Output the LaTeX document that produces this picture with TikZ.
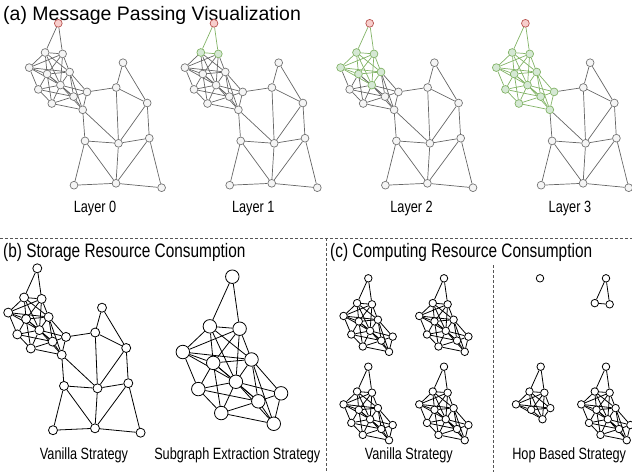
\documentclass[tikz,border=0pt]{standalone}
\usepackage{fontspec}
\setmainfont{Liberation Sans}
\newfontfamily\headfont[FakeStretch=0.79]{Liberation Sans}
\newfontfamily\capfont[FakeStretch=0.78]{Liberation Sans}
\usepackage{tikz}
\usetikzlibrary{backgrounds}
\definecolor{nodegray}{HTML}{F5F5F5}
\definecolor{linegray}{HTML}{666666}
\definecolor{hopfill}{HTML}{D5E8D4}
\definecolor{hopline}{HTML}{82B366}
\definecolor{srcfill}{HTML}{F8CECC}
\definecolor{srcline}{HTML}{B85450}
\definecolor{sepgray}{HTML}{555555}
\tikzset{
  % vertices of the message passing panel
  grayv/.style={circle, inner sep=0pt, minimum size=7.8pt, line width=0.7pt,
    draw=linegray!90, fill=nodegray},
  greenv/.style={grayv, draw=hopline, fill=hopfill},
  redv/.style={grayv, draw=srcline, fill=srcfill},
  % edges of the message passing panel
  grayl/.style={linegray, line width=0.7pt},
  greenl/.style={hopline, line width=0.7pt},
  % plain black graphs of (b) and (c)
  bvert/.style={circle, inner sep=0pt, minimum size=#1, line width=0.8pt,
    draw=black, fill=white},
  bvert/.default=8pt,
  blackl/.style={black, line width=0.8pt},
  % dashed panel borders
  sepline/.style={sepgray, line width=0.8pt, dash pattern=on 3pt off 2pt},
  % texts
  panelhead/.style={anchor=base west, inner sep=0pt,
    font=\headfont\fontsize{19.5}{22}\selectfont},
  caption/.style={anchor=base, inner sep=0pt,
    font=\capfont\fontsize{16.3}{18}\selectfont},
}
% graph, relative to the source vertex r (px, y downwards), by hop distance
\def\hopone{A/-13.2/29.2, B/4.3/30.6}
\def\hoptwo{C/-29.1/44.3, D/-11.2/50.7, E/11.3/48.7, G/2.1/61.8}
\def\hopthree{F/-20/66.1, H/-6.5/80.2, I/15.3/73.3, J/28.7/68.6, K/24.4/86.5}
\def\hopfour{L/64.7/39.4, M/57.9/64.2, N/88.9/79.7, O/26.7/117.6, P/60.2/120,
  Q/91/114.9, R/15.7/161.9, S/57.7/160, T/103.3/164.4}
\def\edgeone{r/A, r/B, A/B}
\def\edgetwo{A/C, A/D, A/E, A/G, B/C, B/D, B/E, B/G, C/D, C/E, C/G, D/E, D/G, E/G}
\def\edgethree{C/F, D/F, D/H, D/I, E/I, E/J, E/K, F/G, F/H, F/I, G/H, G/I, G/J,
  G/K, H/I, H/K, I/J, I/K, J/K}
\def\edgefour{J/M, K/O, K/P, L/M, L/N, M/N, M/P, N/P, N/Q, O/P, P/Q, O/R, O/S,
  P/S, Q/S, Q/T, R/S, S/T}
% #1 prefix, #2 number of layers the message has gone through
\newcommand{\layergraph}[2]{%
  \ifnum#2>0 \tikzset{vone/.style=greenv, eone/.style=greenl}%
  \else\tikzset{vone/.style=grayv, eone/.style=grayl}\fi
  \ifnum#2>1 \tikzset{vtwo/.style=greenv, etwo/.style=greenl}%
  \else\tikzset{vtwo/.style=grayv, etwo/.style=grayl}\fi
  \ifnum#2>2 \tikzset{vthree/.style=greenv, ethree/.style=greenl}%
  \else\tikzset{vthree/.style=grayv, ethree/.style=grayl}\fi
  \node[redv] (#1-r) at (0,0) {};
  \foreach \vn/\vx/\vy in \hopone {\node[vone] (#1-\vn) at (\vx,\vy) {};}
  \foreach \vn/\vx/\vy in \hoptwo {\node[vtwo] (#1-\vn) at (\vx,\vy) {};}
  \foreach \vn/\vx/\vy in \hopthree {\node[vthree] (#1-\vn) at (\vx,\vy) {};}
  \foreach \vn/\vx/\vy in \hopfour {\node[grayv] (#1-\vn) at (\vx,\vy) {};}
  \begin{pgfonlayer}{background}
    \foreach \ea/\eb in \edgeone {\draw[eone] (#1-\ea) -- (#1-\eb);}
    \foreach \ea/\eb in \edgetwo {\draw[etwo] (#1-\ea) -- (#1-\eb);}
    \foreach \ea/\eb in \edgethree {\draw[ethree] (#1-\ea) -- (#1-\eb);}
    \foreach \ea/\eb in \edgefour {\draw[grayl] (#1-\ea) -- (#1-\eb);}
  \end{pgfonlayer}
}
% #1 prefix, #2 hops kept around r, #3 vertex style
\newcommand{\plaingraph}[3]{%
  \node[#3] (#1-r) at (0,0) {};
  \ifnum#2>0 \foreach \vn/\vx/\vy in \hopone {\node[#3] (#1-\vn) at (\vx,\vy) {};}\fi
  \ifnum#2>1 \foreach \vn/\vx/\vy in \hoptwo {\node[#3] (#1-\vn) at (\vx,\vy) {};}\fi
  \ifnum#2>2 \foreach \vn/\vx/\vy in \hopthree {\node[#3] (#1-\vn) at (\vx,\vy) {};}\fi
  \ifnum#2>3 \foreach \vn/\vx/\vy in \hopfour {\node[#3] (#1-\vn) at (\vx,\vy) {};}\fi
  \begin{pgfonlayer}{background}
    \ifnum#2>0 \foreach \ea/\eb in \edgeone {\draw[blackl] (#1-\ea) -- (#1-\eb);}\fi
    \ifnum#2>1 \foreach \ea/\eb in \edgetwo {\draw[blackl] (#1-\ea) -- (#1-\eb);}\fi
    \ifnum#2>2 \foreach \ea/\eb in \edgethree {\draw[blackl] (#1-\ea) -- (#1-\eb);}\fi
    \ifnum#2>3 \foreach \ea/\eb in \edgefour {\draw[blackl] (#1-\ea) -- (#1-\eb);}\fi
  \end{pgfonlayer}
}

\begin{document}
\begin{tikzpicture}[x=1pt, y=-1pt]
  \useasboundingbox (0,0) rectangle (632,472);
  % --- (a) message passing, one copy per layer ---
  \node[panelhead, font=\fontsize{19.5}{22}\selectfont] (heada) at (3,20)
    {(a) Message Passing Visualization};
  \foreach \k in {0,...,3} {
    \begin{scope}[shift={(58.3+155.7*\k,23.3)}]
      \layergraph{a\k}{\k}
    \end{scope}
    \node[caption] (layer\k) at (95+158.3*\k,212) {Layer \k};
  }
  % --- panel borders ---
  \draw[sepline] (0,238) -- (632,238);
  \draw[sepline] (326,238) -- (326,472);
  \draw[sepline] (493.3,265) -- (493.3,472);
  % --- (b) storage ---
  \node[panelhead] (headb) at (3,257.5) {(b) Storage Resource Consumption};
  \begin{scope}[shift={(37.3,268.3)}]
    \plaingraph{bv}{4}{bvert=9pt}
  \end{scope}
  \begin{scope}[shift={(232.3,276.7)}, scale=1.7]
    \plaingraph{bs}{3}{bvert=13.5pt}
  \end{scope}
  \node[caption] (capbv) at (84,459) {Vanilla Strategy};
  \node[caption] (capbs) at (237.3,459) {Subgraph Extraction Strategy};
  % --- (c) computing ---
  \node[panelhead] (headc) at (330,257.5) {(c) Computing Resource Consumption};
  \foreach \cx/\cy [count=\ci] in {368.3/278.3, 444/278.3, 368.3/366.7, 444/366.7} {
    \begin{scope}[shift={(\cx,\cy)}, scale=0.85]
      \plaingraph{cv\ci}{3}{bvert=7.5pt}
    \end{scope}
  }
  % hop based: 0, 1, 2 and 3 hops around r
  \foreach \cx/\cy/\h in {540/278.3/0, 606/278.3/1, 540.7/366.7/2, 606/366.7/3} {
    \begin{scope}[shift={(\cx,\cy)}, scale=0.85]
      \plaingraph{ch\h}{\h}{bvert=7.5pt}
    \end{scope}
  }
  \node[caption] (capcv) at (408.8,459) {Vanilla Strategy};
  \node[caption] (capch) at (569.2,459) {Hop Based Strategy};
\end{tikzpicture}
\end{document}
